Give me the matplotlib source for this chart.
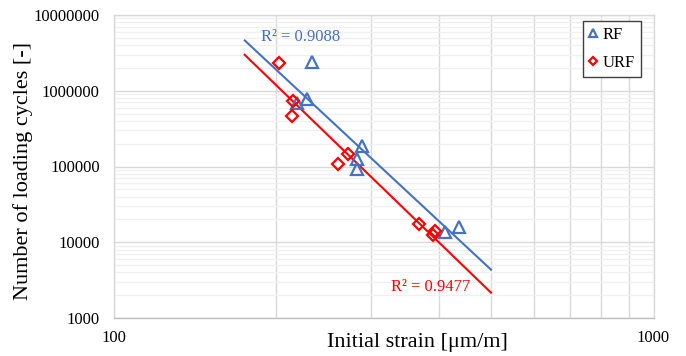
import numpy as np
import matplotlib
matplotlib.use('Agg')
import matplotlib.pyplot as plt
from matplotlib.ticker import LogLocator, FixedLocator, NullFormatter, FuncFormatter

# DATA
rf_strain = [232.8, 228.0, 218.7, 289.0, 283.0, 282.0, 411.0, 437.0]
rf_cycles = [2420000, 770000, 690000, 187000, 124000, 92000, 13800, 16000]
urf_strain = [202.8, 215.3, 213.8, 272.0, 260.8, 368.0, 393.5, 390.0]
urf_cycles = [2340000, 733000, 465000, 145000, 107000, 17400, 14200, 12500]
trend_range = [175, 500]
r2_labels = ['R² = 0.9088', 'R² = 0.9477']
x_ticks = [100, 1000]
y_ticks = [1000, 10000, 100000, 1000000, 10000000]

blue = '#4472C4'
red = '#FF0000'
plt.rcParams['font.family'] = ['Liberation Serif', 'DejaVu Serif']

fig = plt.figure(figsize=(6.86, 3.56), dpi=100)
ax = fig.add_axes([113.5/686, 1-318/356, 540/686, 303/356])
ax.set_xscale('log')
ax.set_yscale('log')
ax.set_xlim(100, 1000)
ax.set_ylim(1000, 10000000)

# gridlines
ax.xaxis.set_major_locator(FixedLocator(x_ticks))
ax.xaxis.set_minor_locator(LogLocator(base=10, subs=np.arange(2, 10)))
ax.yaxis.set_major_locator(FixedLocator(y_ticks))
ax.yaxis.set_minor_locator(LogLocator(base=10, subs=np.arange(2, 10)))
ax.xaxis.set_minor_formatter(NullFormatter())
ax.yaxis.set_minor_formatter(NullFormatter())
ax.xaxis.set_major_formatter(FuncFormatter(lambda v, p: '%d' % v))
ax.yaxis.set_major_formatter(FuncFormatter(lambda v, p: '%d' % v))
ax.grid(True, which='major', color='#D9D9D9', linewidth=1)
ax.grid(True, which='minor', axis='x', color='#D9D9D9', linewidth=1)
ax.grid(True, which='minor', axis='y', color='#F0F0F0', linewidth=1)
ax.set_axisbelow(True)
ax.tick_params(which='both', length=0, labelsize=12, colors='#000000')
ax.tick_params(axis='y', pad=10)
ax.tick_params(axis='x', pad=9)
for s in ax.spines.values():
    s.set_color('#D9D9D9')
    s.set_linewidth(1)
ax.spines['bottom'].set_color('#BFBFBF')

# power trendlines fitted in log space
xs = np.linspace(trend_range[0], trend_range[1], 50)
for sx, sy, c in [(rf_strain, rf_cycles, blue), (urf_strain, urf_cycles, red)]:
    k, b = np.polyfit(np.log10(sx), np.log10(sy), 1)
    ax.plot(xs, 10**b * xs**k, color=c, linewidth=1.5, zorder=2)

ax.plot(rf_strain, rf_cycles, linestyle='none', marker='^', markersize=8,
        markerfacecolor='none', markeredgecolor=blue, markeredgewidth=1.6, label='RF', zorder=3)
ax.plot(urf_strain, urf_cycles, linestyle='none', marker='D', markersize=6,
        markerfacecolor='none', markeredgecolor=red, markeredgewidth=1.6, label='URF', zorder=3)

ax.text(0.347, 0.926, r2_labels[0], transform=ax.transAxes, color=blue,
        fontsize=12, ha='center', va='center')
ax.text(0.588, 0.101, r2_labels[1], transform=ax.transAxes, color=red,
        fontsize=12, ha='center', va='center')

leg = ax.legend(loc='upper right', bbox_to_anchor=(0.977, 0.981), borderaxespad=0,
                fontsize=12, fancybox=False, framealpha=1, edgecolor='#404040',
                handlelength=0.5, handletextpad=0.35, labelspacing=0.75,
                borderpad=0.35, markerscale=0.75)
leg.get_frame().set_linewidth(1)

fig.text(417/686, 1-343/356, 'Initial strain [μm/m]', fontsize=16, ha='center', va='center')
fig.text(23/686, 1-171/356, 'Number of loading cycles [-]', fontsize=16, ha='center',
         va='center', rotation=90)

plt.savefig('out.png', dpi=100)
